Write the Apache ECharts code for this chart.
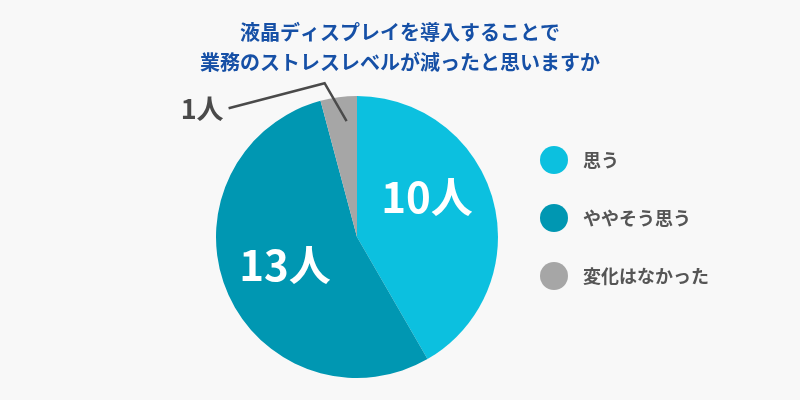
<!DOCTYPE html>
<html>
<head>
<meta charset="utf-8">
<script src="https://cdn.jsdelivr.net/npm/echarts@6/dist/echarts.min.js"></script>
<style>
  html, body { margin: 0; padding: 0; background: #f8f8f8; }
  #main { width: 800px; height: 400px; }
</style>
</head>
<body>
<div id="main"></div>
<script>
// 回答の選択肢と人数
var answers = ['思う', 'ややそう思う', '変化はなかった'];
var counts = [10, 13, 1];
var colors = ['#0cc0df', '#0097b2', '#a6a6a6'];
var unit = '人';

(function () {
    'use strict';

    var myChart = echarts.init(document.getElementById('main'));
    var font = '"Noto Sans CJK JP", "Noto Sans", sans-serif';
    var center = [357, 237];
    var radius = 141;
    var total = counts.reduce(function (a, b) { return a + b; }, 0);

    // ラベルの位置調整（扇形の中）
    var insideOffsets = [[-1, -21], [-4, 0]];

    var pieData = answers.map(function (name, i) {
        var item = {
            name: name,
            value: counts[i],
            itemStyle: { color: colors[i] }
        };
        if (insideOffsets[i]) {
            item.label = { offset: insideOffsets[i] };
        }
        if (i === 2) {
            // 小さい扇形はラベルを外に出す
            item.label = {
                position: 'outside',
                color: '#4a4a4a',
                fontSize: 27,
                fontWeight: 'bold'
            };
        }
        return item;
    });

    // 最後の扇形の中央角の外周点
    function edgePoint(index, r) {
        var before = 0;
        for (var i = 0; i < index; i++) before += counts[i];
        var mid = (before + counts[index] / 2) / total;
        var ang = mid * Math.PI * 2; // 上から時計回り
        return [center[0] + r * Math.sin(ang), center[1] - r * Math.cos(ang)];
    }

    var p = edgePoint(2, radius);
    var leaderLine = [
        [p[0] + 8, p[1] + 24],
        [p[0] - 14, p[1] - 14],
        [p[0] - 110, p[1] + 11]
    ];

    var option = {
        animation: false,
        backgroundColor: '#f8f8f8',
        title: {
            text: '液晶ディスプレイを導入することで\n業務のストレスレベルが減ったと思いますか',
            left: 'center',
            top: 12,
            textStyle: {
                color: '#1650a6',
                fontFamily: font,
                fontSize: 20,
                fontWeight: 'bold',
                lineHeight: 30
            }
        },
        legend: {
            orient: 'vertical',
            left: 535,
            top: 141,
            icon: 'circle',
            itemWidth: 28,
            itemHeight: 28,
            itemGap: 30,
            data: answers,
            textStyle: {
                color: '#555',
                fontFamily: font,
                fontSize: 18,
                fontWeight: 'bold',
                padding: [0, 0, 0, 10]
            }
        },
        graphic: [{
            type: 'polyline',
            z: 10,
            shape: { points: leaderLine },
            style: { stroke: '#4a4a4a', lineWidth: 2.5, fill: null }
        }],
        series: [{
            type: 'pie',
            center: center,
            radius: radius,
            startAngle: 90,
            clockwise: true,
            label: {
                position: 'inside',
                formatter: '{c}' + unit,
                color: '#fff',
                fontFamily: font,
                fontSize: 42,
                fontWeight: 'bold'
            },
            labelLine: { show: false },
            labelLayout: function (params) {
                if (params.dataIndex !== 2) {
                    return;
                }
                return {
                    x: p[0] - 115,
                    y: p[1] + 12,
                    align: 'right',
                    verticalAlign: 'middle'
                };
            },
            emphasis: { disabled: true },
            data: pieData
        }]
    };

    myChart.setOption(option);
})();
</script>
</body>
</html>
